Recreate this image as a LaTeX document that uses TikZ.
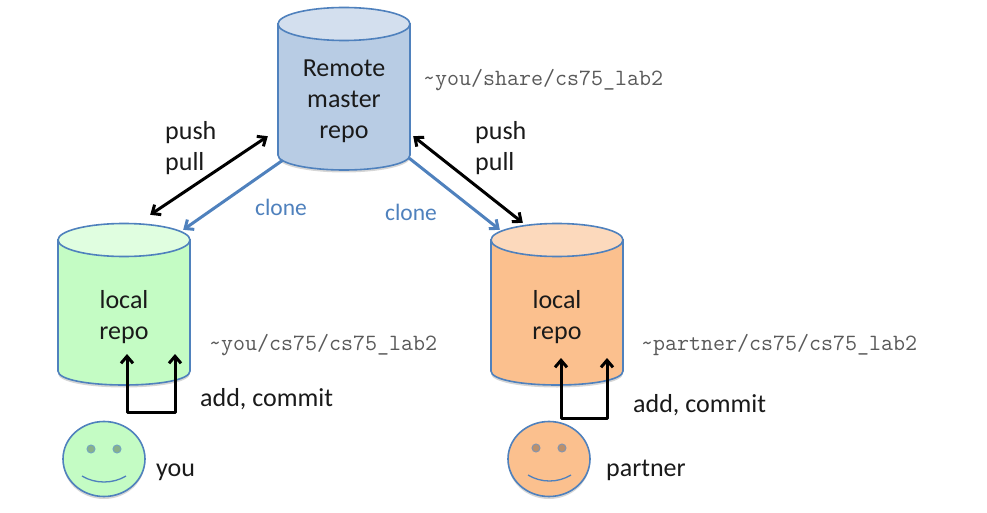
\documentclass[tikz,border=0pt]{standalone}
\usepackage{fontspec}
\setmainfont{Carlito}
\usetikzlibrary{arrows.meta,shapes.geometric,shadows}
\definecolor{edgeblue}{HTML}{4F81BD}
\definecolor{remotebody}{HTML}{B8CCE4}
\definecolor{remotetop}{HTML}{D3DFEE}
\definecolor{greenbody}{HTML}{C4FCC4}
\definecolor{greentop}{HTML}{E0FEE0}
\definecolor{orangebody}{HTML}{FBC08E}
\definecolor{orangetop}{HTML}{FCD9BC}
\definecolor{inktext}{HTML}{1A1A1A}
\definecolor{pathgray}{HTML}{5A5A5A}
\tikzset{
  x=1pt,y=-1pt,
  outline/.style={draw=edgeblue,line width=1.6pt},
  softshadow/.style={drop shadow={shadow xshift=0pt,shadow yshift=-2.5pt,opacity=.16,fill=black}},
  label/.style={font=\fontsize{26}{31}\selectfont,text=inktext,inner sep=0pt,align=center},
  leftlabel/.style={font=\fontsize{26}{31}\selectfont,text=inktext,inner sep=0pt,align=left},
  clonelabel/.style={font=\fontsize{23.5}{28}\selectfont,text=edgeblue,inner sep=0pt},
  pathlabel/.style={font=\ttfamily\fontsize{23.3}{24}\selectfont,text=pathgray,inner sep=0pt},
  syncarrow/.style={black,line width=3pt,{Straight Barb[length=7pt,width=12pt]}-{Straight Barb[length=7pt,width=12pt]}},
  clonearrow/.style={edgeblue,line width=3pt,-{Straight Barb[length=7pt,width=12pt]}},
  workarrow/.style={black,line width=3pt,line join=round,{Straight Barb[length=7pt,width=12pt]}-{Straight Barb[length=7pt,width=12pt]}},
  facenode/.style={shape=ellipse,outline,minimum width=82pt,minimum height=75pt,inner sep=0pt,softshadow},
}
\begin{document}
\begin{tikzpicture}
\useasboundingbox (0,0) rectangle (987,513);
\fill[white] (0,0) rectangle (987,513);

% cylinders
\path[fill=remotebody,outline,softshadow] (278,24) -- (278,155)
   .. controls (278,164) and (310,170) .. (344,170)
   .. controls (378,170) and (410,164) .. (410,155) -- (410,24) -- cycle;
\path[fill=remotetop,outline] (344,24) ellipse[x radius=66pt,y radius=16.5pt];
\node[label,minimum width=132pt,minimum height=162pt] (remote) at (344,89) {};
\node[label] (remotetext) at (344,101) {Remote\\master\\repo};

\path[fill=greenbody,outline,softshadow] (58,240) -- (58,371)
   .. controls (58,380) and (90,385) .. (124,385)
   .. controls (158,385) and (190,380) .. (190,371) -- (190,240) -- cycle;
\path[fill=greentop,outline] (124,240) ellipse[x radius=66pt,y radius=16.5pt];
\node[label,minimum width=132pt,minimum height=161pt] (localyou) at (124,304.5) {};
\node[label] (localyoutext) at (124,317) {local\\repo};

\path[fill=orangebody,outline,softshadow] (491,240) -- (491,371)
   .. controls (491,380) and (523,385) .. (557,385)
   .. controls (591,385) and (623,380) .. (623,371) -- (623,240) -- cycle;
\path[fill=orangetop,outline] (557,240) ellipse[x radius=66pt,y radius=16.5pt];
\node[label,minimum width=132pt,minimum height=161pt] (localpartner) at (557,304.5) {};
\node[label] (localpartnertext) at (557,317) {local\\repo};

% faces
\node[facenode,fill=greenbody] (youface) at (104,459) {};
\fill[fill=black!30!greenbody,draw=edgeblue!70!greenbody,line width=1pt] (91,449) circle[radius=4pt] (117,449) circle[radius=4pt];
\draw[edgeblue,line width=1.3pt] (82,476) .. controls (95,484) and (113,484) .. (126,476);

\node[facenode,fill=orangebody] (partnerface) at (549,459) {};
\fill[fill=black!25!orangebody,draw=edgeblue!70!orangebody,line width=1pt] (536,448) circle[radius=4pt] (562,448) circle[radius=4pt];
\draw[edgeblue,line width=1.3pt] (528,475) .. controls (541,483) and (558,483) .. (571,475);

% clone arrows
\draw[clonearrow] ([shift={(5,-10)}]remote.south west) -- ([shift={(-7,6)}]localyou.north east);
\draw[clonearrow] ([shift={(-1,-12)}]remote.south east) -- ([shift={(9,6)}]localpartner.north west);

% push / pull arrows
\draw[syncarrow] ([shift={(-40,-9)}]localyou.north east) -- ([shift={(-10,-34)}]remote.south west);
\draw[syncarrow] ([shift={(3,-34)}]remote.south east) -- ([shift={(32,-1)}]localpartner.north west);

% add, commit arrows
\coordinate (youA) at (127,354);
\coordinate (youB) at (175,354);
\coordinate (youBase) at (150,412);
\draw[workarrow] (youA) -- (youA |- youBase) -- (youB |- youBase) -- (youB);
\coordinate (partnerA) at (561,358);
\coordinate (partnerB) at (607,358);
\coordinate (partnerBase) at (585,418);
\draw[workarrow] (partnerA) -- (partnerA |- partnerBase) -- (partnerB |- partnerBase) -- (partnerB);

% labels
\node[leftlabel,anchor=west] (pushleft) at (165,148) {push\\pull};
\node[leftlabel,anchor=west] (pushright) at (475,148) {push\\pull};
\node[clonelabel] (cloneleft) at (281,207) {clone};
\node[clonelabel] (cloneright) at (411,212) {clone};
\node[leftlabel,anchor=base west] (addyou) at (200,406) {add, commit};
\node[leftlabel,anchor=base west] (addpartner) at (633,412) {add, commit};
\node[leftlabel,anchor=base west] (youlabel) at (156,476) {you};
\node[leftlabel,anchor=base west] (partnerlabel) at (606,476) {partner};
\node[pathlabel,anchor=base west] (pathremote) at (423,86) {\char`\~you/share/cs75\_lab2};
\node[pathlabel,anchor=base west] (pathyou) at (209,350) {\char`\~you/cs75/cs75\_lab2};
\node[pathlabel,anchor=base west] (pathpartner) at (641,350) {\char`\~partner/cs75/cs75\_lab2};
\end{tikzpicture}
\end{document}
